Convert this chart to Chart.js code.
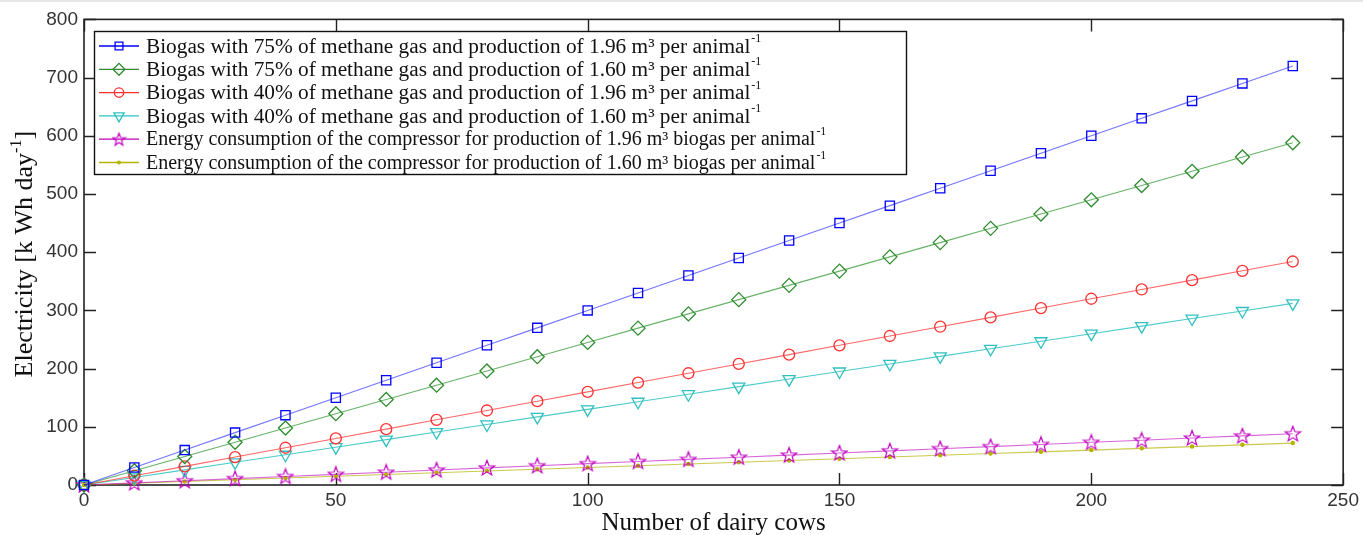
<!DOCTYPE html>
<html>
<head>
<meta charset="utf-8">
<script src="https://cdn.jsdelivr.net/npm/chart.js@4"></script>
<style>
  html, body { margin: 0; padding: 0; background: #fff; }
  #wrap { width: 1363px; height: 535px; border-top: 2px solid #e6e6e6; box-sizing: border-box; }
  canvas { display: block; }
</style>
</head>
<body>
<div id="wrap"><canvas id="c" width="1363" height="533"></canvas></div>
<script>
// number of dairy cows
const cows = [0, 10, 20, 30, 40, 50, 60, 70, 80, 90, 100, 110, 120, 130, 140, 150, 160, 170, 180, 190, 200, 210, 220, 230, 240];

// electricity, kWh/day
const bio75_196 = [0, 30, 60, 90, 120, 150, 180, 210, 240, 270, 300, 330, 360, 390, 420, 450, 480, 510, 540, 570, 600, 630, 660, 690, 720];
const bio75_160 = [0, 24.5, 49, 73.5, 98, 122.5, 147, 171.5, 196, 220.5, 245, 269.5, 294, 318.5, 343, 367.5, 392, 416.5, 441, 465.5, 490, 514.5, 539, 563.5, 588];
const bio40_196 = [0, 16, 32, 48, 64, 80, 96, 112, 128, 144, 160, 176, 192, 208, 224, 240, 256, 272, 288, 304, 320, 336, 352, 368, 384];
const bio40_160 = [0, 13, 26, 39, 52, 65, 78, 91, 104, 117, 130, 143, 156, 169, 182, 195, 208, 221, 234, 247, 260, 273, 286, 299, 312];
const comp_196 = [0, 3.7, 7.3, 11, 14.7, 18.3, 22, 25.7, 29.4, 33, 36.7, 40.4, 44, 47.7, 51.4, 55, 58.7, 62.4, 66, 69.7, 73.4, 77, 80.7, 84.4, 88];
const comp_160 = [0, 3, 6, 9, 12, 15, 18, 21, 24, 27, 30, 33, 36, 39, 42, 45, 48, 51, 54, 57, 60, 63, 66, 69, 72];

const xTicks = [0, 50, 100, 150, 200, 250];
const yTicks = [0, 100, 200, 300, 400, 500, 600, 700, 800];

const legendLabels = [
    'Biogas with 75% of methane gas and production of 1.96 m\u00b3 per animal',
    'Biogas with 75% of methane gas and production of 1.60 m\u00b3 per animal',
    'Biogas with 40% of methane gas and production of 1.96 m\u00b3 per animal',
    'Biogas with 40% of methane gas and production of 1.60 m\u00b3 per animal',
    'Energy consumption of the compressor for production of 1.96 m\u00b3 biogas per animal',
    'Energy consumption of the compressor for production of 1.60 m\u00b3 biogas per animal',
];

function pts(ys) {
    return cows.map((x, i) => ({ x, y: ys[i] }));
}

// MATLAB-ish pentagram marker
function starMarker(color, size) {
    const c = document.createElement('canvas');
    c.width = size; c.height = size;
    const g = c.getContext('2d');
    const m = size / 2, ro = size / 2 - 1, ri = ro * 0.42;
    g.strokeStyle = color;
    g.lineWidth = 1.2;
    g.beginPath();
    for (let i = 0; i < 10; i++) {
        const r = i % 2 === 0 ? ro : ri;
        const a = -Math.PI / 2 + i * Math.PI / 5;
        const px = m + r * Math.cos(a), py = m + 0.5 + r * Math.sin(a);
        if (i === 0) g.moveTo(px, py); else g.lineTo(px, py);
    }
    g.closePath();
    g.stroke();
    return c;
}
const star = starMarker('#c000c0', 18);
const starSmall = starMarker('#c000c0', 15);

const series = [
    { data: bio75_196, line: 'rgba(0,0,255,0.55)', mark: '#0000ff', style: 'rect', r: 6.5, rot: 0 },
    { data: bio75_160, line: 'rgba(0,128,0,0.6)', mark: '#2e8b2e', style: 'rectRot', r: 7, rot: 0 },
    { data: bio40_196, line: 'rgba(255,0,0,0.6)', mark: '#ff3030', style: 'circle', r: 5.5, rot: 0 },
    { data: bio40_160, line: 'rgba(0,180,180,0.7)', mark: '#30c0c0', style: 'triangle', r: 7, rot: 180 },
    { data: comp_196, line: 'rgba(190,0,190,0.6)', mark: '#c000c0', style: star, legendStyle: starSmall, r: 8, rot: 0 },
    { data: comp_160, line: 'rgba(180,180,0,0.7)', mark: '#b4b400', style: 'circle', r: 1.6, rot: 0, fill: true },
];

const boxPlugin = {
    id: 'box',
    beforeDatasetsDraw(chart) {
        const { ctx, chartArea: a, scales } = chart;
        ctx.save();
        ctx.strokeStyle = '#222';
        ctx.lineWidth = 1.4;
        const tl = 12;
        ctx.beginPath();
        yTicks.forEach(v => {
            const y = Math.round(scales.y.getPixelForValue(v)) + 0.5;
            ctx.moveTo(a.left, y); ctx.lineTo(a.left + tl, y);
            ctx.moveTo(a.right, y); ctx.lineTo(a.right - tl, y);
        });
        xTicks.forEach(v => {
            const x = Math.round(scales.x.getPixelForValue(v)) + 0.5;
            ctx.moveTo(x, a.bottom); ctx.lineTo(x, a.bottom - tl);
            ctx.moveTo(x, a.top); ctx.lineTo(x, a.top + tl);
        });
        ctx.stroke();
        ctx.lineWidth = 1.6;
        ctx.strokeRect(a.left, a.top, a.right - a.left, a.bottom - a.top);
        ctx.restore();
    },
    afterDraw(chart) {
        const { ctx, chartArea: a } = chart;
        ctx.save();
        // y axis title with superscript
        ctx.translate(25, (a.top + a.bottom) / 2 + 2);
        ctx.rotate(-Math.PI / 2);
        ctx.fillStyle = '#111';
        ctx.textBaseline = 'middle';
        const main = '26px "Liberation Serif"';
        const sup = '16px "Liberation Serif"';
        const parts = [['Electricity [k Wh day', main, 0], ['-1', sup, -8], [']', main, 0]];
        let w = 0;
        parts.forEach(p => { ctx.font = p[1]; w += ctx.measureText(p[0]).width; });
        let x = -w / 2;
        parts.forEach(p => {
            ctx.font = p[1];
            ctx.fillText(p[0], x, p[2]);
            x += ctx.measureText(p[0]).width;
        });
        ctx.restore();

        // legend
        ctx.save();
        const L = 94, T = 29, R = 906, B = 172;
        ctx.fillStyle = '#fff';
        ctx.fillRect(L, T, R - L, B - T);
        ctx.strokeStyle = '#111';
        ctx.lineWidth = 1.4;
        ctx.strokeRect(L + 0.5, T + 0.5, R - L, B - T);
        const rowH = 23.3;
        series.forEach((s, i) => {
            const cy = T + 15 + i * rowH;
            ctx.strokeStyle = s.mark;
            ctx.lineWidth = 1.3;
            ctx.beginPath();
            ctx.moveTo(99, cy); ctx.lineTo(139, cy);
            ctx.stroke();
            ctx.fillStyle = s.fill ? s.mark : 'rgba(0,0,0,0)';
            Chart.helpers.drawPoint(ctx, {
                pointStyle: s.legendStyle || s.style, radius: s.r * 0.85, rotation: s.rot, borderWidth: 1.2
            }, 119, cy);
            const txt = legendLabels[i];
            const f = i < 4 ? '21.3px "Liberation Serif"' : '20px "Liberation Serif"';
            ctx.font = f;
            ctx.fillStyle = '#111';
            ctx.textBaseline = 'middle';
            ctx.fillText(txt, 146, cy + 1);
            const tw = ctx.measureText(txt).width;
            ctx.font = '12px "Liberation Serif"';
            ctx.fillText('-1', 146 + tw + 1, cy - 7);
        });
        ctx.restore();
    }
};

new Chart(document.getElementById('c'), {
    type: 'scatter',
    data: {
        datasets: series.map((s, i) => ({
            label: legendLabels[i],
            data: pts(s.data),
            showLine: true,
            borderColor: s.line,
            borderWidth: 1.1,
            pointStyle: s.style,
            pointRadius: s.r,
            pointRotation: s.rot,
            pointBorderColor: s.mark,
            pointBackgroundColor: s.fill ? s.mark : 'rgba(0,0,0,0)',
            pointBorderWidth: 1.3,
            clip: false,
        })),
    },
    options: {
        responsive: false,
        animation: false,
        layout: { padding: { top: 17, right: 17, left: 0, bottom: 0 } },
        plugins: {
            legend: { display: false },
            tooltip: { enabled: false },
        },
        scales: {
            x: {
                type: 'linear', min: 0, max: 250,
                grid: { display: false, drawTicks: false },
                border: { display: false },
                ticks: {
                    stepSize: 50, padding: 4, maxRotation: 0,
                    color: '#333', font: { family: '"Liberation Sans"', size: 19 },
                },
                title: {
                    display: true, text: 'Number of dairy cows', color: '#111',
                    font: { family: '"Liberation Serif"', size: 25 }, padding: { top: 1, bottom: -3 },
                },
                afterFit(scale) { scale.height = 50; },
            },
            y: {
                min: 0, max: 800,
                grid: { display: false, drawTicks: false },
                border: { display: false },
                ticks: {
                    stepSize: 100, padding: 6,
                    color: '#333', font: { family: '"Liberation Sans"', size: 19 },
                },
                afterFit(scale) { scale.width = 84; },
            },
        },
    },
    plugins: [boxPlugin],
});
</script>
</body>
</html>
